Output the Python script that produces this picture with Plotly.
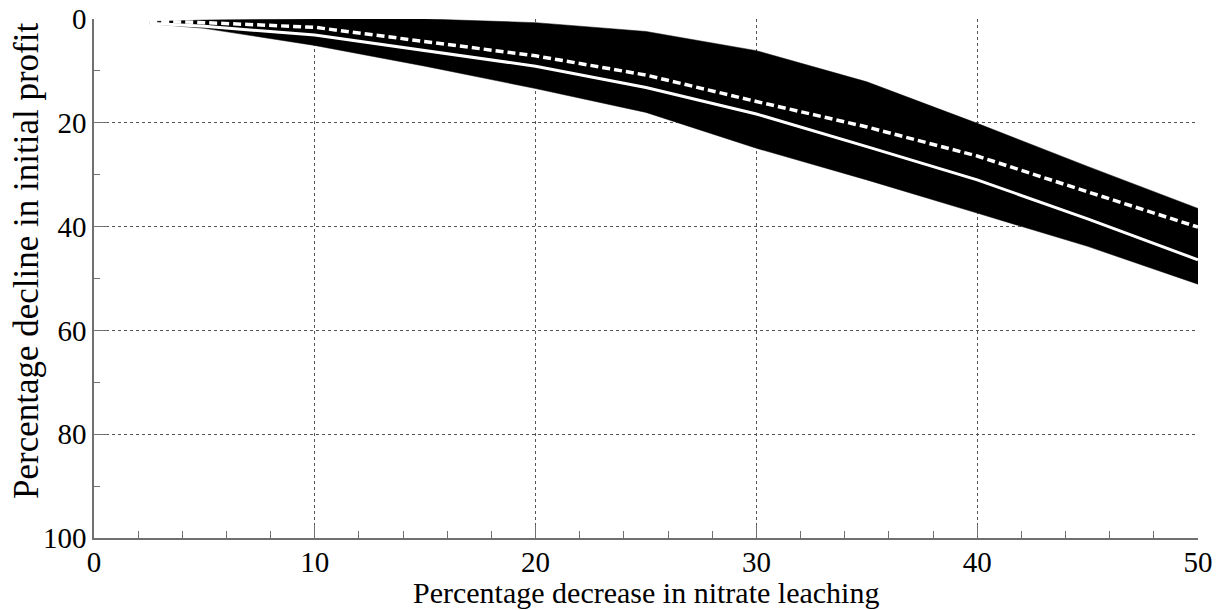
import plotly.graph_objects as go

# Data
x_vals = [2.5, 5, 10, 15, 20, 25, 30, 35, 40, 45, 50]
band_top = [0.5, 0.2, 0.0, 0.0, 0.7, 2.4, 6.1, 12.1, 20.1, 28.4, 36.5]
band_bottom = [0.9, 1.8, 5.1, 9.1, 13.4, 18.0, 24.9, 31.0, 37.4, 43.8, 51.1]
solid_line = [0.8, 1.4, 3.1, 6.1, 9.1, 13.2, 18.3, 24.6, 31.0, 38.5, 46.4]
dashed_line = [0.4, 0.7, 1.6, 4.3, 7.1, 10.8, 15.9, 20.8, 26.4, 33.3, 40.1]

x_title = "Percentage decrease in nitrate leaching"
y_title = "Percentage decline in initial profit"

FONT = "Liberation Serif, Times New Roman, serif"

fig = go.Figure()
fig.add_trace(go.Scatter(x=x_vals, y=band_bottom, mode="lines",
                         line=dict(color="black", width=0.5), showlegend=False))
fig.add_trace(go.Scatter(x=x_vals, y=band_top, mode="lines", fill="tonexty",
                         fillcolor="black",
                         line=dict(color="black", width=0.5), showlegend=False))
fig.add_trace(go.Scatter(x=x_vals, y=solid_line, mode="lines",
                         line=dict(color="white", width=3), showlegend=False))
fig.add_trace(go.Scatter(x=x_vals, y=dashed_line, mode="lines",
                         line=dict(color="white", width=3.5, dash="8px,4px"),
                         showlegend=False))

axis_common = dict(
    showline=True, linecolor="#707070", linewidth=1.5,
    showgrid=True, gridcolor="#555555", gridwidth=1, griddash="dot",
    zeroline=False, ticks="inside", tickcolor="#707070", tickwidth=1,
    tickfont=dict(family=FONT, size=29, color="black"),
    automargin=False,
)

fig.update_xaxes(range=[0, 50], dtick=10, tick0=0, ticklen=13,
                 ticklabelstandoff=-3,
                 minor=dict(ticks="inside", dtick=2, ticklen=7, tickcolor="#707070",
                            showgrid=False),
                 **axis_common)
fig.update_yaxes(range=[100, 0], dtick=20, tick0=0, ticklen=13,
                 minor=dict(ticks="inside", dtick=10, ticklen=6, tickcolor="#707070",
                            showgrid=False),
                 **axis_common)

fig.add_annotation(text=x_title, xref="paper", yref="paper",
                   x=0.5, y=(538 - 611) / 519,
                   xanchor="center", yanchor="bottom", showarrow=False,
                   font=dict(family=FONT, size=30, color="black"))
fig.add_annotation(text=y_title, textangle=-90, xref="paper", yref="paper",
                   x=(26 - 94) / 1104, y=(538 - 261) / 519,
                   xanchor="center", yanchor="middle", showarrow=False,
                   font=dict(family=FONT, size=35, color="black"))

fig.update_layout(
    width=1224, height=610,
    margin=dict(l=94, r=26, t=19, b=72),
    plot_bgcolor="white", paper_bgcolor="white",
    font=dict(family=FONT, color="black"),
)

fig.write_html("out.html")
